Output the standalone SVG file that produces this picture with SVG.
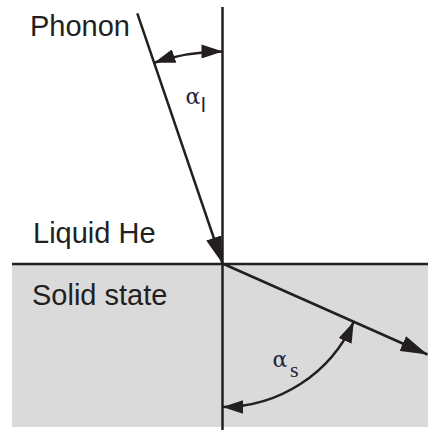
<svg xmlns="http://www.w3.org/2000/svg" width="428" height="430" viewBox="0 0 428 430">
<style>
.ln{stroke:#231f20;stroke-width:2.5;fill:none}
.lbl{font-family:"Liberation Sans",Arial,sans-serif;font-size:29px;fill:#231f20}
.gr{font-family:"DejaVu Serif","Liberation Serif",serif;font-size:22px;fill:#1f2340}
.sub{font-family:"Liberation Sans",Arial,sans-serif;font-size:21px;fill:#1f2340}
.subs{font-family:"Liberation Serif","Times New Roman",serif;font-size:22px;fill:#1f2340}
</style>
<defs>
<marker id="big" markerUnits="userSpaceOnUse" markerWidth="27" markerHeight="16" viewBox="0 0 27 16" refX="27" refY="8" orient="auto">
<path d="M0,0 L27,8 L0,16 Z" fill="#231f20"/>
</marker>
<marker id="sm" markerUnits="userSpaceOnUse" markerWidth="21" markerHeight="14" viewBox="0 0 21 14" refX="21" refY="7" orient="auto-start-reverse">
<path d="M0,0 L21,7 L0,14 Z" fill="#231f20"/>
</marker>
</defs>
<rect width="428" height="430" fill="#ffffff"/>
<g id="solid-region">
<rect x="12" y="264" width="416" height="163" fill="#dadada"/>
</g>
<g id="axes">
<line class="ln" x1="222.5" y1="7" x2="222.5" y2="430"/>
<line class="ln" x1="12" y1="264" x2="428" y2="264"/>
</g>
<g id="connectors">
<line class="ln" x1="137.3" y1="13.3" x2="222.5" y2="263.5" marker-end="url(#big)"/>
<line class="ln" x1="222.5" y1="263.5" x2="427.5" y2="354.5" marker-end="url(#big)"/>
<path class="ln" d="M154.2,62.8 A212,212 0 0 1 222.5,51.5" marker-start="url(#sm)" marker-end="url(#sm)"/>
<path class="ln" d="M222.5,407 A143.5,143.5 0 0 0 353.7,321.7" marker-start="url(#sm)" marker-end="url(#sm)"/>
</g>
<g id="phonon"><text class="lbl" x="30" y="36">Phonon</text></g>
<g id="liquid-he"><text class="lbl" x="33" y="243">Liquid He</text></g>
<g id="solid-state"><text class="lbl" x="32" y="305">Solid state</text></g>
<g id="alpha-l"><text class="gr" x="185.5" y="104">α</text><text class="sub" x="201" y="112">l</text></g>
<g id="alpha-s"><text class="gr" x="272.5" y="367">α</text><text class="subs" x="290" y="376.5">s</text></g>
</svg>
